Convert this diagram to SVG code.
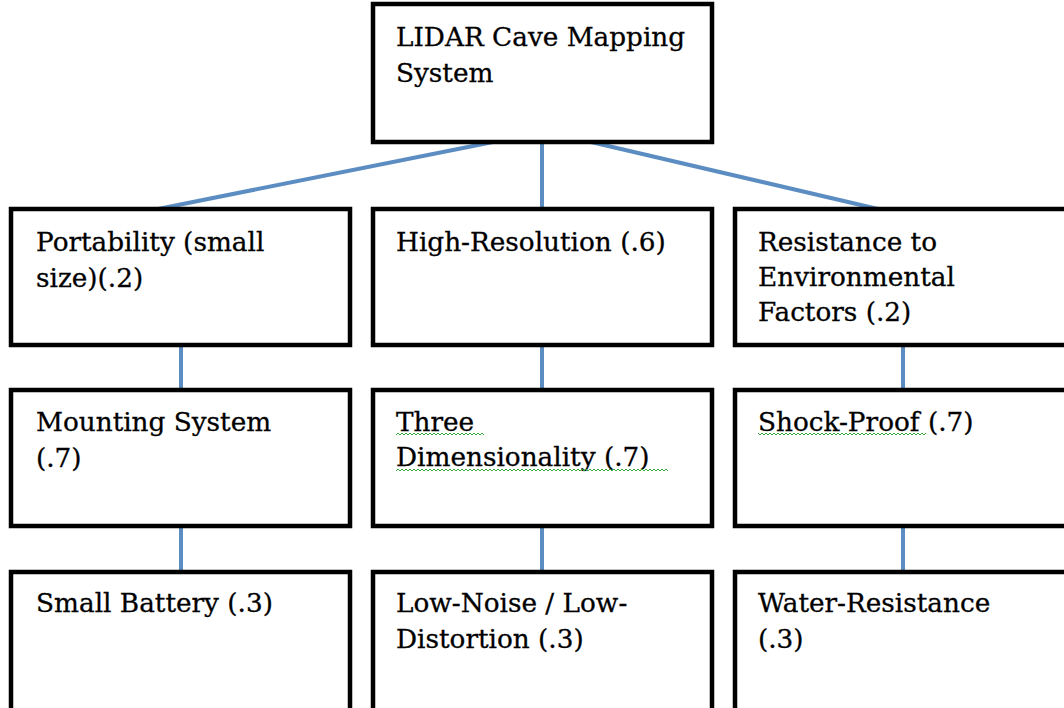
<svg xmlns="http://www.w3.org/2000/svg" width="1064" height="708" viewBox="0 0 1064 708">
<style>
.box{fill:#fff;stroke:#000;stroke-width:4.5}
.lbl{font-family:"DejaVu Serif","Liberation Serif",serif;font-size:26.3px;fill:#000;stroke:#000;stroke-width:0.3}
.con{stroke:#5b8dc2;stroke-width:4;fill:none}
.sq{fill:url(#squig)}
</style>
<defs>
<pattern id="squig" patternUnits="userSpaceOnUse" width="4" height="4">
<path d="M0 3 L2 1 L4 3" fill="none" stroke="#3aa83a" stroke-width="1"/>
</pattern>
</defs>
<rect width="1064" height="708" fill="#fff"/>
<g id="connectors">
<line class="con" x1="493" y1="142" x2="158" y2="209"/>
<line class="con" x1="542" y1="142" x2="542" y2="209"/>
<line class="con" x1="591" y1="142" x2="878" y2="209"/>
<line class="con" x1="181" y1="345" x2="181" y2="390"/>
<line class="con" x1="542" y1="345" x2="542" y2="390"/>
<line class="con" x1="903" y1="345" x2="903" y2="390"/>
<line class="con" x1="181" y1="526" x2="181" y2="572"/>
<line class="con" x1="542" y1="526" x2="542" y2="572"/>
<line class="con" x1="903" y1="526" x2="903" y2="572"/>
</g>
<g id="root">
<rect class="box" x="373" y="4" width="339" height="138"/>
<text class="lbl" x="396" y="46">LIDAR Cave Mapping</text>
<text class="lbl" x="396" y="82">System</text>
</g>
<g id="portability">
<rect class="box" x="11" y="209" width="339" height="136"/>
<text class="lbl" x="36" y="251">Portability (small</text>
<text class="lbl" x="36" y="287">size)(.2)</text>
</g>
<g id="highres">
<rect class="box" x="373" y="209" width="339" height="136"/>
<text class="lbl" x="396" y="251">High-Resolution (.6)</text>
</g>
<g id="resistance">
<rect class="box" x="735" y="209" width="339" height="136"/>
<text class="lbl" x="758" y="251">Resistance to</text>
<text class="lbl" x="758" y="286">Environmental</text>
<text class="lbl" x="758" y="321">Factors (.2)</text>
</g>
<g id="mounting">
<rect class="box" x="11" y="390" width="339" height="136"/>
<text class="lbl" x="36" y="431">Mounting System</text>
<text class="lbl" x="36" y="467">(.7)</text>
</g>
<g id="threed">
<rect class="box" x="373" y="390" width="339" height="136"/>
<text class="lbl" x="396" y="431">Three</text>
<text class="lbl" x="396" y="466">Dimensionality (.7)</text>
<rect class="sq" x="396" y="433" width="88" height="4"/>
<rect class="sq" x="396" y="468" width="272" height="4"/>
</g>
<g id="shockproof">
<rect class="box" x="735" y="390" width="339" height="136"/>
<text class="lbl" x="758" y="431">Shock-Proof (.7)</text>
<rect class="sq" x="758" y="433" width="168" height="4"/>
</g>
<g id="battery">
<rect class="box" x="11" y="572" width="339" height="160"/>
<text class="lbl" x="36" y="612">Small Battery (.3)</text>
</g>
<g id="lownoise">
<rect class="box" x="373" y="572" width="339" height="160"/>
<text class="lbl" x="396" y="612">Low-Noise / Low-</text>
<text class="lbl" x="396" y="648">Distortion (.3)</text>
</g>
<g id="water">
<rect class="box" x="735" y="572" width="339" height="160"/>
<text class="lbl" x="758" y="612">Water-Resistance</text>
<text class="lbl" x="758" y="648">(.3)</text>
</g>
</svg>
